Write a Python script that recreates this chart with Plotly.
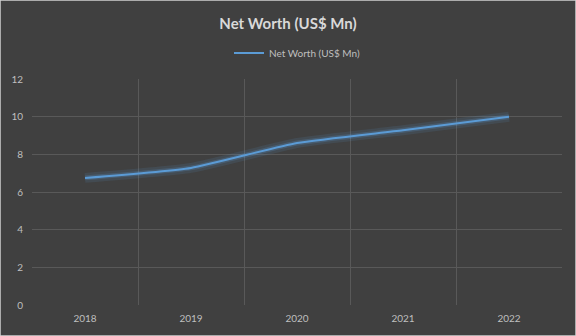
import plotly.graph_objects as go

years = ["2018", "2019", "2020", "2021", "2022"]
net_worth = [6.75, 7.28, 8.6, 9.28, 10.0]
series_name = "Net Worth (US$ Mn)"
title_text = "Net Worth (US$ Mn)"

fig = go.Figure()
# glow
fig.add_trace(go.Scatter(x=years, y=net_worth, mode="lines", showlegend=False, hoverinfo="skip",
                         line=dict(color="rgba(91,155,213,0.12)", width=10, shape="spline", smoothing=0.5)))
fig.add_trace(go.Scatter(x=years, y=net_worth, mode="lines", showlegend=False, hoverinfo="skip",
                         line=dict(color="rgba(91,155,213,0.22)", width=5, shape="spline", smoothing=0.5)))
fig.add_trace(go.Scatter(x=years, y=net_worth, mode="lines", name=series_name,
                         line=dict(color="#5B9BD5", width=2, shape="spline", smoothing=0.5)))

fig.update_layout(
    width=576, height=336,
    paper_bgcolor="#404040", plot_bgcolor="#404040",
    margin=dict(l=32, r=14, t=79, b=31),
    font=dict(family="Lato, Open Sans, sans-serif", color="#bfbfbf", size=10),
    title=dict(text="<b>" + title_text + "</b>", x=0.5, xanchor="center", y=0.93, yanchor="middle",
               font=dict(size=15, color="#d9d9d9", family="Lato, Open Sans, sans-serif")),
    showlegend=True,
    legend=dict(orientation="h", x=0.5, xanchor="center", y=1.115, yanchor="middle",
                font=dict(size=10, color="#bfbfbf"), bgcolor="rgba(0,0,0,0)"),
    xaxis=dict(type="category", range=[-0.5, 4.5], showgrid=True, gridcolor="#595959", gridwidth=1,
               tickson="boundaries", ticks="", showline=False, zeroline=False, ticklabelstandoff=6,
               tickfont=dict(size=10, color="#bfbfbf")),
    yaxis=dict(range=[0, 12], dtick=2, showgrid=True, gridcolor="#595959", gridwidth=1,
               zeroline=False, showline=False, ticks="", ticklabelstandoff=8,
               tickfont=dict(size=10, color="#bfbfbf")),
)
fig.add_shape(type="rect", xref="paper", yref="paper", x0=-32/530, x1=1+14/530, y0=-31/226, y1=1+79/226,
              line=dict(color="#d0d0d0", width=1.5), fillcolor="rgba(0,0,0,0)")
fig.write_html("out.html")
